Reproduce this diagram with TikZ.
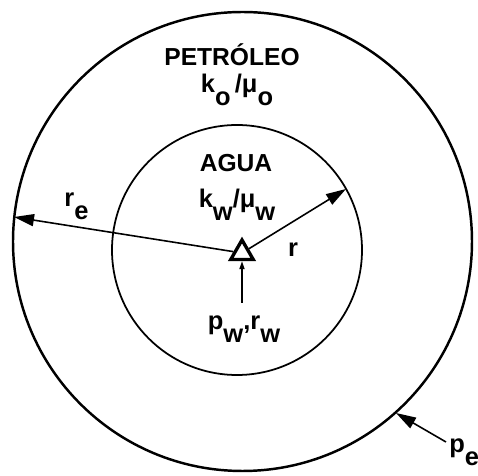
\documentclass[tikz,border=0pt]{standalone}
\usepackage{fontspec}
\setsansfont{Liberation Sans}
\usetikzlibrary{arrows.meta,shapes.geometric}

\newcommand{\lowsub}[1]{\raisebox{-0.5em}{#1}}

\begin{document}
\begin{tikzpicture}[x=0.02cm,y=-0.02cm,
  ttl/.style={font=\sffamily\bfseries\fontsize{14}{16}\selectfont,inner sep=0pt},
  lbl/.style={font=\sffamily\bfseries\fontsize{14.5}{17}\selectfont,inner sep=0pt},
  rad/.style={line width=0.9pt,-{Triangle[length=0.4cm,width=0.24cm]}},
  tick/.style={line width=0.9pt,-{Triangle[length=0.16cm,width=0.1cm]}}]
  \def\Re{229.5}
  \def\Rw{125}
  \useasboundingbox (0,0) rectangle (478,476);
  \coordinate (O) at (242.5,241.5);
  \coordinate (W) at (237,250);
  \coordinate (re) at (14,217);
  \coordinate (rw) at (346,189);
  \coordinate (pe) at (396,413);
  \coordinate (petail) at (446,442);
  \coordinate (pwtail) at (242,303);
  \draw[line width=1.4pt] (O) circle (\Re);
  \draw[line width=1pt] (W) circle (\Rw);
  \node[regular polygon,regular polygon sides=3,draw,line width=1.9pt,
    inner sep=0pt,minimum size=0.52cm] (well) at (242,253) {};
  % labels
  \node[ttl] (petro) at (232,55) {PETRÓLEO};
  \node[lbl,anchor=base] (ko) at (237,93) {k\lowsub{o}\,/μ\lowsub{o}};
  \node[ttl] (agua) at (236,163) {AGUA};
  \node[lbl,anchor=base] (kw) at (237,208) {k\lowsub{w}/μ\lowsub{w}};
  \node[lbl,anchor=base west] (relbl) at (64,207) {r\lowsub{e}};
  \node[lbl,anchor=base] (rlbl) at (293,257) {r};
  \node[lbl,anchor=base] (pwlbl) at (244,330) {p\lowsub{w},r\lowsub{w}};
  \node[lbl,anchor=base west] (pelbl) at (449,453) {p\lowsub{e}};
  % radii and pointers
  \draw[rad] (well) -- (re);
  \draw[rad] (well) -- (rw);
  \draw[rad] (petail) -- (pe);
  \draw[tick] (pwtail) -- (well.south);
\end{tikzpicture}
\end{document}
